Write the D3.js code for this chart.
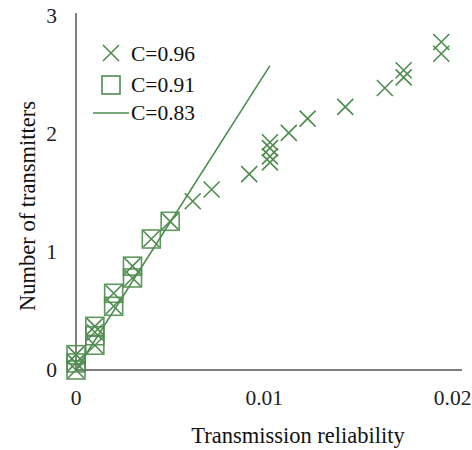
<!DOCTYPE html>
<html><head><meta charset="utf-8">
<script src="https://cdn.jsdelivr.net/npm/d3@7"></script>
<style>body{margin:0;background:#fff}svg{display:block}</style>
</head><body>
<svg id="c" width="472" height="450"></svg>
<script>
// Series C=0.96 (crosses)
const crossX = [0, 0, 0, 0.001, 0.001, 0.001, 0.002, 0.002, 0.003, 0.003, 0.004, 0.005, 0.0062, 0.0072, 0.0092,
  0.0103, 0.0103, 0.0103, 0.0103, 0.0113, 0.0123, 0.0143, 0.0164, 0.0174, 0.0174, 0.0194, 0.0194];
const crossY = [0, 0.06, 0.13, 0.21, 0.32, 0.37, 0.54, 0.65, 0.78, 0.88, 1.11, 1.26, 1.43, 1.53, 1.66,
  1.76, 1.81, 1.88, 1.93, 2.01, 2.13, 2.23, 2.39, 2.48, 2.54, 2.68, 2.78];
// Series C=0.91 (squares)
const squareX = [0, 0, 0, 0.001, 0.001, 0.001, 0.002, 0.002, 0.003, 0.003, 0.004, 0.005];
const squareY = [0, 0.06, 0.13, 0.21, 0.29, 0.37, 0.54, 0.65, 0.78, 0.88, 1.11, 1.26];
// Series C=0.83 (line)
const lineX = [0, 0.0103];
const lineY = [0, 2.58];
const xTicks = [0, 0.01, 0.02];
const xTickLabels = ["0", "0.01", "0.02"];
const yTicks = [0, 1, 2, 3];
const legendLabels = ["C=0.96", "C=0.91", "C=0.83"];

const green = "#4e8c4e";
const axisCol = "#555";
const font = "'Liberation Serif','Times New Roman',serif";
const svg = d3.select("#c");
const x = d3.scaleLinear().domain([0, 0.0205]).range([76, 462]);
const y = d3.scaleLinear().domain([0, 3]).range([370, 16]);

// axes lines
svg.append("line").attr("x1", 76).attr("x2", 76).attr("y1", 13).attr("y2", 370)
  .attr("stroke", axisCol).attr("stroke-width", 1.5);
svg.append("line").attr("x1", 76).attr("x2", 462).attr("y1", y(0)).attr("y2", y(0))
  .attr("stroke", axisCol).attr("stroke-width", 1.5);

// tick labels
svg.selectAll(".xt").data(xTicks).join("text")
  .attr("x", d => x(d)).attr("y", 405).attr("text-anchor", "middle")
  .attr("font-family", font).attr("font-size", 21.5).attr("fill", "#222")
  .text((d, i) => xTickLabels[i]);
svg.selectAll(".yt").data(yTicks).join("text")
  .attr("x", 57).attr("y", d => y(d) + 7).attr("text-anchor", "end")
  .attr("font-family", font).attr("font-size", 21.5).attr("fill", "#222")
  .text(d => d);

// titles
svg.append("text").attr("x", 298).attr("y", 443).attr("text-anchor", "middle")
  .attr("font-family", font).attr("font-size", 22.5).attr("fill", "#111")
  .text("Transmission reliability");
svg.append("text").attr("transform", "translate(35,206) rotate(-90)").attr("text-anchor", "middle")
  .attr("font-family", font).attr("font-size", 22.5).attr("fill", "#111")
  .text("Number of transmitters");

// line series
svg.append("path").datum(lineX.map((v, i) => [v, lineY[i]]))
  .attr("d", d3.line().x(d => x(d[0])).y(d => y(d[1])))
  .attr("fill", "none").attr("stroke", green).attr("stroke-width", 1.6);

// squares
const sq = 18;
svg.selectAll(".sq").data(squareX.map((v, i) => [v, squareY[i]])).join("rect")
  .attr("x", d => x(d[0]) - sq / 2).attr("y", d => y(d[1]) - sq / 2)
  .attr("width", sq).attr("height", sq)
  .attr("fill", "none").attr("stroke", green).attr("stroke-width", 1.6).attr("opacity", 0.9);

// crosses
const cs = 8;
const crossPath = `M${-cs},${-cs}L${cs},${cs}M${-cs},${cs}L${cs},${-cs}`;
svg.selectAll(".cr").data(crossX.map((v, i) => [v, crossY[i]])).join("path")
  .attr("transform", d => `translate(${x(d[0])},${y(d[1])})`)
  .attr("d", crossPath).attr("fill", "none").attr("stroke", green).attr("stroke-width", 1.6);

// legend
const lg = svg.append("g");
lg.append("path").attr("transform", "translate(111,53)").attr("d", `M-8,-8L8,8M-8,8L8,-8`)
  .attr("stroke", green).attr("stroke-width", 1.6).attr("fill", "none");
lg.append("rect").attr("x", 102).attr("y", 76).attr("width", 18).attr("height", 18)
  .attr("stroke", green).attr("stroke-width", 1.6).attr("fill", "none");
lg.append("line").attr("x1", 93).attr("x2", 129).attr("y1", 113).attr("y2", 113)
  .attr("stroke", green).attr("stroke-width", 1.6);
lg.selectAll("text").data(legendLabels).join("text")
  .attr("x", 131).attr("y", (d, i) => [61, 92, 120][i])
  .attr("font-family", font).attr("font-size", 21.5).attr("fill", "#111")
  .text(d => d);
</script>
</body></html>
